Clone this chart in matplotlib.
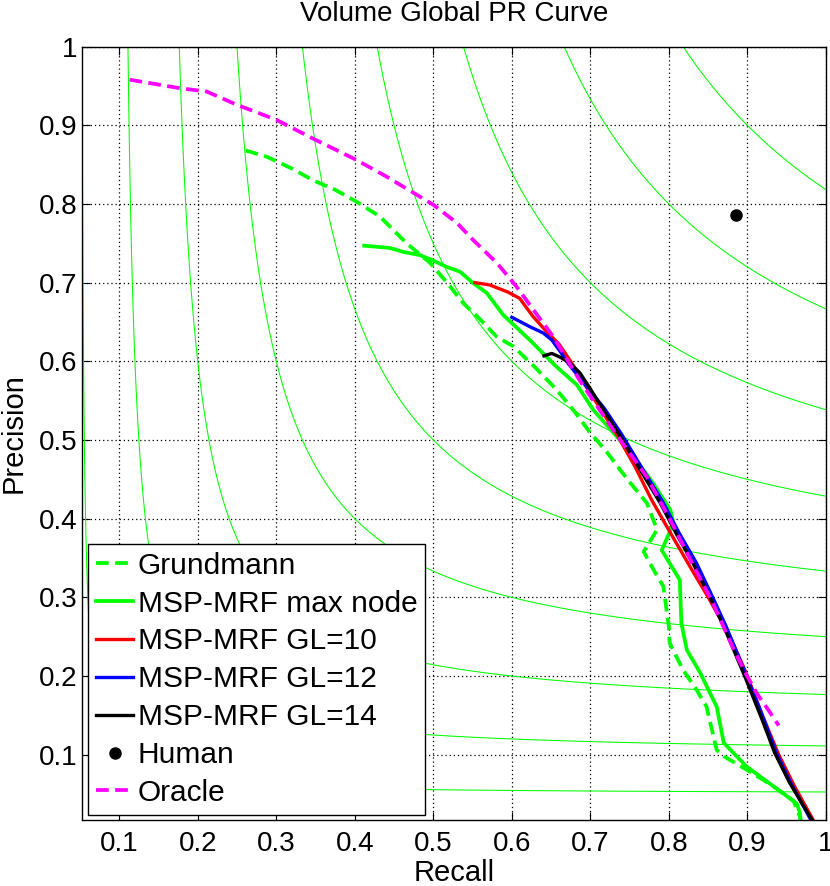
import matplotlib
matplotlib.use("Agg")
import matplotlib.pyplot as plt
import numpy as np

plt.rcParams["font.family"] = ["Liberation Sans", "DejaVu Sans"]

# iso F-measure levels drawn in the background
f_levels = [0.1, 0.2, 0.3, 0.4, 0.5, 0.6, 0.7, 0.8, 0.9]

# (recall, precision)
grundmann_r = [0.261, 0.288, 0.320, 0.347, 0.375, 0.402, 0.432, 0.466, 0.496, 0.520, 0.538, 0.560,
               0.581, 0.602, 0.630, 0.657, 0.680, 0.700, 0.720, 0.738, 0.757, 0.772, 0.785, 0.768,
               0.780, 0.793, 0.800, 0.801, 0.818, 0.835, 0.848, 0.861, 0.870, 0.899, 0.933, 0.959,
               0.967, 0.968]
grundmann_p = [0.868, 0.860, 0.845, 0.830, 0.818, 0.803, 0.784, 0.750, 0.725, 0.697, 0.674, 0.653,
               0.631, 0.619, 0.592, 0.564, 0.536, 0.509, 0.486, 0.462, 0.438, 0.420, 0.386, 0.358,
               0.336, 0.314, 0.263, 0.242, 0.208, 0.183, 0.161, 0.106, 0.098, 0.081, 0.060, 0.041,
               0.021, 0.015]

maxnode_r = [0.412, 0.445, 0.462, 0.483, 0.500, 0.517, 0.534, 0.550, 0.568, 0.589, 0.623, 0.657,
             0.683, 0.704, 0.734, 0.755, 0.780, 0.802, 0.806, 0.791, 0.814, 0.816, 0.823, 0.840,
             0.861, 0.870, 0.899, 0.933, 0.963, 0.967, 0.968]
maxnode_p = [0.747, 0.744, 0.739, 0.735, 0.728, 0.720, 0.714, 0.700, 0.687, 0.659, 0.627, 0.593,
             0.570, 0.538, 0.504, 0.479, 0.445, 0.411, 0.394, 0.360, 0.322, 0.267, 0.233, 0.204,
             0.161, 0.115, 0.085, 0.060, 0.038, 0.026, 0.015]

gl10_r = [0.553, 0.572, 0.595, 0.610, 0.627, 0.645, 0.660, 0.675, 0.690, 0.714, 0.735, 0.757,
          0.778, 0.802, 0.827, 0.852, 0.878, 0.898, 0.920, 0.940, 0.960, 0.985]
gl10_p = [0.700, 0.697, 0.688, 0.680, 0.657, 0.637, 0.622, 0.600, 0.575, 0.538, 0.505, 0.466,
          0.424, 0.382, 0.339, 0.297, 0.250, 0.205, 0.148, 0.100, 0.060, 0.015]

gl12_r = [0.600, 0.623, 0.640, 0.651, 0.662, 0.672, 0.692, 0.718, 0.740, 0.766, 0.792, 0.813,
          0.835, 0.855, 0.873, 0.899, 0.921, 0.937, 0.956, 0.982]
gl12_p = [0.656, 0.644, 0.636, 0.627, 0.612, 0.597, 0.572, 0.540, 0.507, 0.464, 0.422, 0.382,
          0.344, 0.302, 0.263, 0.200, 0.145, 0.102, 0.063, 0.015]

gl14_r = [0.641, 0.651, 0.662, 0.674, 0.687, 0.700, 0.717, 0.738, 0.763, 0.789, 0.810, 0.831,
          0.852, 0.870, 0.897, 0.919, 0.935, 0.954, 0.980, 0.984]
gl14_p = [0.607, 0.610, 0.605, 0.598, 0.585, 0.565, 0.538, 0.505, 0.463, 0.420, 0.380, 0.343,
          0.301, 0.263, 0.199, 0.144, 0.102, 0.064, 0.021, 0.015]

oracle_r = [0.113, 0.178, 0.211, 0.250, 0.300, 0.347, 0.402, 0.440, 0.475, 0.500, 0.530, 0.551,
            0.581, 0.606, 0.630, 0.653, 0.687, 0.729, 0.772, 0.802, 0.830, 0.855, 0.870, 0.882,
            0.897, 0.912, 0.928, 0.940]
oracle_p = [0.958, 0.947, 0.943, 0.926, 0.907, 0.883, 0.856, 0.835, 0.814, 0.799, 0.776, 0.754,
            0.725, 0.695, 0.662, 0.631, 0.575, 0.513, 0.453, 0.398, 0.343, 0.295, 0.262, 0.235,
            0.205, 0.178, 0.155, 0.137]

human_r = [0.886]
human_p = [0.786]

x_ticks = [0.1, 0.2, 0.3, 0.4, 0.5, 0.6, 0.7, 0.8, 0.9, 1.0]
y_ticks = [0.1, 0.2, 0.3, 0.4, 0.5, 0.6, 0.7, 0.8, 0.9, 1.0]
tick_labels = ["0.1", "0.2", "0.3", "0.4", "0.5", "0.6", "0.7", "0.8", "0.9", "1"]

fig = plt.figure(figsize=(8.3, 8.86), dpi=100)
ax = fig.add_axes([0.0992, 0.0745, 0.8958, 0.8729])

# F-measure contours
rr, pp = np.meshgrid(np.linspace(0.01, 1, 600), np.linspace(0.01, 1, 600))
ff = 2 * rr * pp / (rr + pp)
ax.contour(rr, pp, ff, levels=f_levels, colors=[(0, 1, 0)], linewidths=0.75)

dash = (3.4, 1.7)
ax.plot(grundmann_r, grundmann_p, color=(0, 1, 0), lw=2.7, linestyle="--", dashes=dash, label="Grundmann")
ax.plot(maxnode_r, maxnode_p, color=(0, 1, 0), lw=2.7, label="MSP-MRF max node")
ax.plot(gl10_r, gl10_p, color=(1, 0, 0), lw=2.4, label="MSP-MRF GL=10")
ax.plot(gl12_r, gl12_p, color=(0, 0, 1), lw=2.4, label="MSP-MRF GL=12")
ax.plot(gl14_r, gl14_p, color="black", lw=2.4, label="MSP-MRF GL=14")
ax.plot(human_r, human_p, "o", color="black", ms=8, linestyle="none", label="Human")
ax.plot(oracle_r, oracle_p, color=(1, 0, 1), lw=2.7, linestyle="--", dashes=dash, label="Oracle")

ax.set_xlim(0.053, 1.0)
ax.set_ylim(0.017, 1.0)
ax.set_xticks(x_ticks)
ax.set_xticklabels(tick_labels)
ax.set_yticks(y_ticks)
ax.set_yticklabels(tick_labels)
ax.tick_params(direction="in", top=True, right=True, labelsize=20, length=6, width=0.8)
ax.tick_params(axis="x", pad=8)
ax.tick_params(axis="y", pad=3.6)
ax.grid(True, color="black", linestyle=(0, (1, 2.3)), linewidth=0.9)
for s in ax.spines.values():
    s.set_linewidth(1.0)

ax.set_xlabel("Recall", fontsize=21)
ax.xaxis.set_label_coords(0.5, -0.050)
ax.set_ylabel("Precision", fontsize=21)
ax.yaxis.set_label_coords(-0.074, 0.5)
ax.set_title("Volume Global PR Curve", fontsize=20, pad=18.7)

leg = ax.legend(loc="lower left", bbox_to_anchor=(0.008, 0.0065), borderaxespad=0,
                fontsize=21.5, handlelength=1.23, handletextpad=0.15, labelspacing=0.33,
                borderpad=0.27, fancybox=False, framealpha=1, edgecolor="black")
leg.get_frame().set_linewidth(1.0)

fig.savefig("out.png", dpi=100)
